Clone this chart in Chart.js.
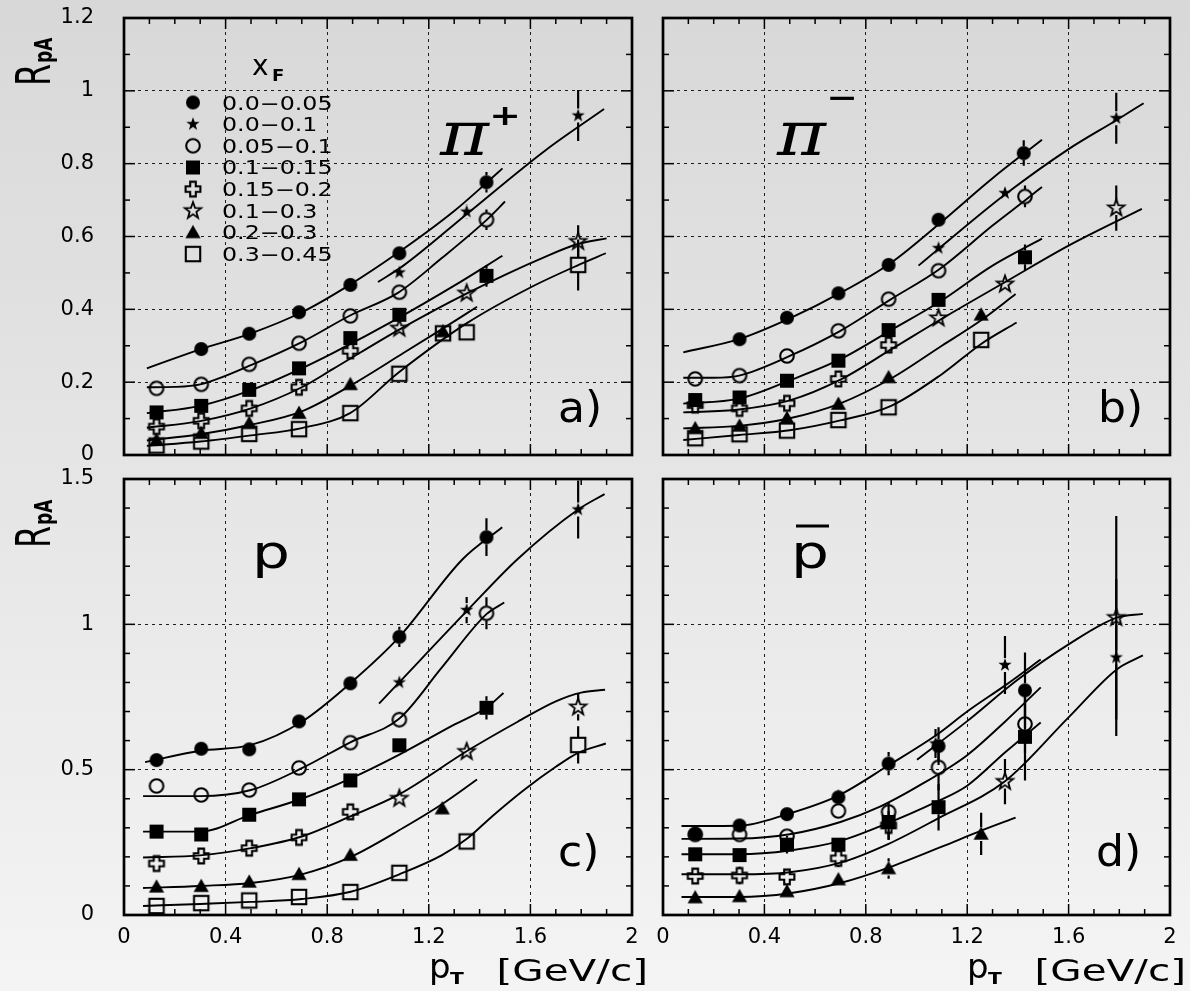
<!DOCTYPE html>
<html><head><meta charset="utf-8">
<script src="https://cdn.jsdelivr.net/npm/chart.js@4.4.0/dist/chart.umd.min.js"></script>
<style>
html,body{margin:0;padding:0;}
body{width:1190px;height:991px;overflow:hidden;background:linear-gradient(#d8d8d8,#f4f4f4);position:relative;}
canvas{position:absolute;left:0;top:0;}
</style></head><body>
<canvas id="ca" width="1190" height="991"></canvas>
<canvas id="cb" width="1190" height="991"></canvas>
<canvas id="cc" width="1190" height="991"></canvas>
<canvas id="cd" width="1190" height="991"></canvas>
<script>
// ---------- tick values / labels ----------
const X_TICKS = [0, 0.4, 0.8, 1.2, 1.6, 2];
const X_TICK_LABELS = ['0', '0.4', '0.8', '1.2', '1.6', '2'];
const X_MINOR = [0.1,0.2,0.3,0.4,0.5,0.6,0.7,0.8,0.9,1.0,1.1,1.2,1.3,1.4,1.5,1.6,1.7,1.8,1.9];
const Y_TICKS_TOP = [0, 0.2, 0.4, 0.6, 0.8, 1, 1.2];
const Y_LABELS_TOP = ['0', '0.2', '0.4', '0.6', '0.8', '1', '1.2'];
const Y_MINOR_TOP = [0.1,0.2,0.3,0.4,0.5,0.6,0.7,0.8,0.9,1.0,1.1];
const Y_TICKS_BOT = [0, 0.5, 1, 1.5];
const Y_LABELS_BOT = ['0', '0.5', '1', '1.5'];
const Y_MINOR_BOT = [0.1,0.2,0.3,0.4,0.5,0.6,0.7,0.8,0.9,1.0,1.1,1.2,1.3,1.4];
const LEGEND_LABELS = ['0.0\u22120.05','0.0\u22120.1','0.05\u22120.1','0.1\u22120.15','0.15\u22120.2','0.1\u22120.3','0.2\u22120.3','0.3\u22120.45'];

// ---------- panel a : pi+ ----------
const A_circ_x = [0.304,0.493,0.689,0.891,1.084,1.427];
const A_circ_y = [0.291,0.333,0.392,0.467,0.554,0.749];
const A_circ_e = [0,0,0,0,0.012,0.028];
const A_sstar_x = [1.084,1.349,1.788];
const A_sstar_y = [0.501,0.668,0.932];
const A_sstar_e = [0.01,0.02,0.07];
const A_ocirc_x = [0.128,0.304,0.493,0.689,0.891,1.084,1.427];
const A_ocirc_y = [0.183,0.194,0.249,0.307,0.382,0.447,0.646];
const A_ocirc_e = [0,0,0,0,0,0.01,0.028];
const A_sq_x = [0.128,0.304,0.493,0.689,0.891,1.084,1.427];
const A_sq_y = [0.117,0.135,0.179,0.238,0.321,0.385,0.492];
const A_sq_e = [0,0,0,0,0,0.01,0.03];
const A_cross_x = [0.128,0.304,0.493,0.689,0.891];
const A_cross_y = [0.078,0.094,0.128,0.186,0.286];
const A_cross_e = [0,0,0,0,0.01];
const A_ostar_x = [1.084,1.349,1.788];
const A_ostar_y = [0.348,0.444,0.586];
const A_ostar_e = [0.01,0.015,0.045];
const A_tri_x = [0.128,0.304,0.493,0.689,0.891,1.256];
const A_tri_y = [0.041,0.06,0.087,0.115,0.194,0.339];
const A_tri_e = [0,0,0,0,0,0];
const A_osq_x = [0.128,0.304,0.493,0.689,0.891,1.084,1.256,1.349,1.788];
const A_osq_y = [0.026,0.037,0.058,0.071,0.115,0.223,0.334,0.337,0.522];
const A_osq_e = [0,0,0,0,0,0,0,0,0.07];
// fitted curves
const A_fit_circ_x = [0.09,0.3,0.5,0.7,0.89,1.08,1.3,1.43,1.49];
const A_fit_circ_y = [0.238,0.29,0.334,0.392,0.468,0.556,0.67,0.749,0.787];
const A_fit_sstar_x = [1.0,1.1,1.35,1.66,1.89];
const A_fit_sstar_y = [0.475,0.52,0.662,0.837,0.95];
const A_fit_ocirc_x = [0.09,0.2,0.3,0.5,0.7,0.89,1.08,1.25,1.43,1.5];
const A_fit_ocirc_y = [0.186,0.187,0.194,0.247,0.31,0.383,0.446,0.54,0.647,0.696];
const A_fit_sq_x = [0.09,0.3,0.5,0.7,0.82,1.08,1.3,1.49];
const A_fit_sq_y = [0.115,0.135,0.178,0.238,0.279,0.376,0.465,0.547];
const A_fit_cross_x = [0.09,0.3,0.5,0.7,0.82,1.08,1.35,1.66,1.79,1.9];
const A_fit_cross_y = [0.075,0.093,0.128,0.186,0.235,0.343,0.444,0.545,0.58,0.595];
const A_fit_tri_x = [0.09,0.3,0.5,0.7,0.89,1.1,1.25,1.39];
const A_fit_tri_y = [0.04,0.057,0.083,0.12,0.19,0.28,0.345,0.407];
const A_fit_osq_x = [0.09,0.3,0.5,0.7,0.89,1.08,1.35,1.6,1.79,1.897];
const A_fit_osq_y = [0.025,0.037,0.054,0.074,0.115,0.226,0.362,0.46,0.522,0.554];

// ---------- panel b : pi- ----------
const B_circ_x = [0.302,0.489,0.692,0.89,1.087,1.423];
const B_circ_y = [0.318,0.377,0.444,0.522,0.646,0.829];
const B_circ_e = [0,0,0,0,0.012,0.035];
const B_sstar_x = [1.087,1.349,1.788];
const B_sstar_y = [0.568,0.719,0.925];
const B_sstar_e = [0.01,0.015,0.07];
const B_ocirc_x = [0.127,0.302,0.489,0.692,0.89,1.087,1.428];
const B_ocirc_y = [0.209,0.218,0.272,0.341,0.428,0.506,0.71];
const B_ocirc_e = [0,0,0,0,0,0.01,0.03];
const B_sq_x = [0.127,0.302,0.489,0.692,0.89,1.087,1.428];
const B_sq_y = [0.151,0.158,0.204,0.259,0.343,0.426,0.543];
const B_sq_e = [0,0,0,0,0,0.01,0.035];
const B_cross_x = [0.127,0.302,0.489,0.692,0.89];
const B_cross_y = [0.137,0.128,0.142,0.209,0.302];
const B_cross_e = [0,0,0,0,0.01];
const B_ostar_x = [1.087,1.349,1.788];
const B_ostar_y = [0.376,0.469,0.678];
const B_ostar_e = [0.01,0.015,0.062];
const B_tri_x = [0.127,0.302,0.489,0.692,0.89,1.255];
const B_tri_y = [0.073,0.08,0.101,0.14,0.213,0.385];
const B_tri_e = [0,0,0,0,0,0];
const B_osq_x = [0.127,0.302,0.489,0.692,0.89,1.255];
const B_osq_y = [0.046,0.057,0.067,0.096,0.131,0.316];
const B_osq_e = [0,0,0,0,0,0];
const B_fit_circ_x = [0.08,0.3,0.5,0.7,0.9,1.09,1.3,1.495];
const B_fit_circ_y = [0.282,0.318,0.375,0.445,0.528,0.635,0.76,0.866];
const B_fit_sstar_x = [1.008,1.087,1.349,1.6,1.79,1.896];
const B_fit_sstar_y = [0.52,0.566,0.715,0.84,0.92,0.966];
const B_fit_ocirc_x = [0.08,0.2,0.3,0.5,0.7,0.9,1.09,1.3,1.43,1.495];
const B_fit_ocirc_y = [0.212,0.212,0.218,0.272,0.341,0.428,0.51,0.63,0.7,0.736];
const B_fit_sq_x = [0.08,0.3,0.5,0.7,0.9,1.09,1.3,1.495];
const B_fit_sq_y = [0.141,0.155,0.205,0.263,0.343,0.42,0.52,0.594];
const B_fit_cross_x = [0.08,0.3,0.5,0.7,0.9,1.09,1.35,1.6,1.889];
const B_fit_cross_y = [0.117,0.125,0.15,0.207,0.29,0.37,0.475,0.575,0.676];
const B_fit_tri_x = [0.08,0.3,0.5,0.7,0.9,1.1,1.255,1.391];
const B_fit_tri_y = [0.073,0.08,0.101,0.142,0.21,0.3,0.37,0.442];
const B_fit_osq_x = [0.08,0.3,0.5,0.7,0.9,1.1,1.255,1.395];
const B_fit_osq_y = [0.041,0.055,0.068,0.095,0.135,0.222,0.305,0.364];

// ---------- panel c : p ----------
const C_circ_x = [0.128,0.304,0.493,0.689,0.891,1.084,1.427];
const C_circ_y = [0.533,0.572,0.57,0.666,0.797,0.957,1.3];
const C_circ_e = [0,0,0,0,0.01,0.035,0.065];
const C_sstar_x = [1.084,1.349,1.788];
const C_sstar_y = [0.8,1.049,1.395];
const C_sstar_e = [0.02,0.045,0.1];
const C_ocirc_x = [0.128,0.304,0.493,0.689,0.891,1.084,1.427];
const C_ocirc_y = [0.444,0.413,0.43,0.506,0.593,0.672,1.038];
const C_ocirc_e = [0,0,0,0,0,0.026,0.055];
const C_sq_x = [0.128,0.304,0.493,0.689,0.891,1.084,1.427];
const C_sq_y = [0.287,0.277,0.345,0.398,0.463,0.584,0.713];
const C_sq_e = [0,0,0,0,0,0.01,0.04];
const C_cross_x = [0.128,0.304,0.493,0.689,0.891];
const C_cross_y = [0.177,0.203,0.23,0.267,0.355];
const C_cross_e = [0,0,0,0,0.01];
const C_ostar_x = [1.084,1.349,1.788];
const C_ostar_y = [0.401,0.562,0.715];
const C_ostar_e = [0.01,0.015,0.046];
const C_tri_x = [0.128,0.304,0.493,0.689,0.891,1.253];
const C_tri_y = [0.097,0.099,0.114,0.14,0.206,0.366];
const C_tri_e = [0,0,0,0,0,0];
const C_osq_x = [0.128,0.304,0.493,0.689,0.891,1.084,1.349,1.788];
const C_osq_y = [0.031,0.041,0.05,0.062,0.079,0.145,0.253,0.585];
const C_osq_e = [0,0,0,0,0,0,0,0.064];
const C_fit_circ_x = [0.083,0.3,0.5,0.7,0.893,1.083,1.333,1.489];
const C_fit_circ_y = [0.526,0.565,0.585,0.665,0.799,0.956,1.224,1.334];
const C_fit_sstar_x = [1.004,1.083,1.352,1.549,1.788,1.892];
const C_fit_sstar_y = [0.727,0.8,1.048,1.224,1.395,1.448];
const C_fit_ocirc_x = [0.075,0.3,0.5,0.7,0.893,1.083,1.25,1.427,1.497];
const C_fit_ocirc_y = [0.409,0.409,0.43,0.505,0.595,0.675,0.85,1.035,1.075];
const C_fit_sq_x = [0.075,0.3,0.5,0.7,0.893,1.084,1.3,1.427,1.494];
const C_fit_sq_y = [0.287,0.287,0.345,0.4,0.47,0.552,0.655,0.713,0.764];
const C_fit_cross_x = [0.075,0.3,0.5,0.7,0.893,1.083,1.352,1.55,1.7,1.8,1.894];
const C_fit_cross_y = [0.198,0.205,0.23,0.27,0.34,0.415,0.565,0.665,0.735,0.765,0.775];
const C_fit_tri_x = [0.075,0.3,0.5,0.7,0.893,1.1,1.25,1.39];
const C_fit_tri_y = [0.093,0.1,0.11,0.14,0.2,0.3,0.38,0.466];
const C_fit_osq_x = [0.075,0.3,0.5,0.7,0.893,1.084,1.25,1.35,1.45,1.576,1.7,1.788,1.897];
const C_fit_osq_y = [0.031,0.038,0.045,0.055,0.08,0.14,0.205,0.262,0.34,0.431,0.51,0.558,0.59];

// ---------- panel d : pbar ----------
const D_circ_x = [0.127,0.302,0.489,0.692,0.89,1.087,1.428];
const D_circ_y = [0.279,0.308,0.347,0.405,0.521,0.581,0.773];
const D_circ_e = [0.01,0.01,0.015,0.026,0.04,0.065,0.13];
const D_sstar_x = [1.075,1.349,1.788];
const D_sstar_y = [0.59,0.86,0.886];
const D_sstar_e = [0.05,0.1,0.27];
const D_ocirc_x = [0.127,0.302,0.489,0.692,0.89,1.087,1.428];
const D_ocirc_y = [0.277,0.277,0.271,0.358,0.355,0.508,0.657];
const D_ocirc_e = [0,0,0.01,0,0.03,0.08,0.1];
const D_sq_x = [0.127,0.302,0.489,0.692,0.89,1.087,1.428];
const D_sq_y = [0.209,0.206,0.242,0.242,0.32,0.371,0.613];
const D_sq_e = [0,0,0.03,0,0.06,0.08,0.15];
const D_cross_x = [0.127,0.302,0.489,0.692,0.89];
const D_cross_y = [0.134,0.136,0.131,0.195,0.308];
const D_cross_e = [0.02,0.03,0.015,0.03,0.05];
const D_ostar_x = [1.349,1.788];
const D_ostar_y = [0.459,1.023];
const D_ostar_e = [0.078,0.35];
const D_tri_x = [0.127,0.302,0.489,0.692,0.89,1.255];
const D_tri_y = [0.06,0.064,0.081,0.122,0.16,0.279];
const D_tri_e = [0.01,0,0,0,0.035,0.073];
const D_fit_circ_x = [0.073,0.3,0.49,0.69,0.89,1.08,1.2,1.35,1.49];
const D_fit_circ_y = [0.306,0.307,0.347,0.41,0.515,0.62,0.7,0.79,0.879];
const D_fit_sstar_x = [1.002,1.2,1.4,1.6,1.79,1.893];
const D_fit_sstar_y = [0.534,0.667,0.81,0.931,1.023,1.036];
const D_fit_ocirc_x = [0.073,0.3,0.5,0.7,0.856,1.0,1.2,1.349,1.49];
const D_fit_ocirc_y = [0.262,0.263,0.278,0.32,0.373,0.44,0.55,0.665,0.783];
const D_fit_sq_x = [0.073,0.3,0.5,0.7,0.856,1.08,1.2,1.35,1.49];
const D_fit_sq_y = [0.209,0.209,0.222,0.255,0.305,0.39,0.445,0.56,0.662];
const D_fit_cross_x = [0.073,0.3,0.5,0.7,0.89,1.08,1.349,1.6,1.79,1.893];
const D_fit_cross_y = [0.14,0.14,0.147,0.18,0.245,0.33,0.46,0.68,0.845,0.893];
const D_fit_tri_x = [0.073,0.3,0.5,0.7,0.89,1.1,1.255,1.391];
const D_fit_tri_y = [0.062,0.062,0.075,0.11,0.163,0.235,0.29,0.335];

// ---------- rendering ----------
const FONT = "'DejaVu Sans', 'Liberation Sans', sans-serif";
const KINDS = ['circ','sstar','ocirc','sq','cross','ostar','tri','osq'];

function marker(kind) {
  const S = 24, c = document.createElement('canvas');
  c.width = S; c.height = S;
  const g = c.getContext('2d');
  g.translate(S / 2, S / 2);
  g.fillStyle = '#000'; g.strokeStyle = '#000'; g.lineWidth = 2.1;
  const star = (ro, ri) => {
    g.beginPath();
    for (let i = 0; i < 10; i++) {
      const r = i % 2 ? ri : ro, a = -Math.PI / 2 + i * Math.PI / 5;
      g.lineTo(r * Math.cos(a), r * Math.sin(a));
    }
    g.closePath();
  };
  switch (kind) {
    case 'circ': g.beginPath(); g.arc(0, 0, 7, 0, 2 * Math.PI); g.fill(); break;
    case 'sstar': star(7, 2.8); g.fill(); break;
    case 'ocirc': g.beginPath(); g.arc(0, 0, 6.8, 0, 2 * Math.PI); g.stroke(); break;
    case 'sq': g.fillRect(-7, -7, 14, 14); break;
    case 'cross': {
      const a = 2.8, b = 7.4;
      g.beginPath();
      g.moveTo(-a, -b); g.lineTo(a, -b); g.lineTo(a, -a); g.lineTo(b, -a); g.lineTo(b, a); g.lineTo(a, a);
      g.lineTo(a, b); g.lineTo(-a, b); g.lineTo(-a, a); g.lineTo(-b, a); g.lineTo(-b, -a); g.lineTo(-a, -a);
      g.closePath(); g.stroke(); break;
    }
    case 'ostar': star(8.6, 3.5); g.lineWidth = 1.8; g.stroke(); break;
    case 'tri': g.beginPath(); g.moveTo(0, -7.6); g.lineTo(7.6, 5.8); g.lineTo(-7.6, 5.8); g.closePath(); g.fill(); break;
    case 'osq': g.strokeRect(-7.2, -7.2, 14.4, 14.4); break;
  }
  return c;
}
const MARK = {};
KINDS.forEach(k => MARK[k] = marker(k));

function txt(ctx, s, x, y, font, sx, align) {
  ctx.save();
  ctx.translate(x, y); ctx.scale(sx || 1, 1);
  ctx.font = font; ctx.textAlign = align || 'left'; ctx.textBaseline = 'alphabetic';
  ctx.fillStyle = '#000'; ctx.fillText(s, 0, 0);
  ctx.restore();
}
function rpaLabel(ctx, bottomY) {
  ctx.save();
  ctx.translate(50, bottomY); ctx.scale(1.5, 1); ctx.rotate(-Math.PI / 2);
  ctx.fillStyle = '#000'; ctx.textBaseline = 'alphabetic'; ctx.textAlign = 'left';
  ctx.font = `32px ${FONT}`; ctx.fillText('R', 0, 0);
  ctx.font = `bold 17px ${FONT}`; ctx.fillText('pA', 23, 1.5);
  ctx.restore();
}
function xTitle(ctx, right) {
  txt(ctx, 'p', right - 203, 978, `34px ${FONT}`, 1.0);
  txt(ctx, 'T', right - 182, 984, `bold 15px ${FONT}`, 1.35);
  txt(ctx, '[GeV/c]', right + 16, 981, `30px ${FONT}`, 1.35, 'right');
}

function series(k, x, y, e) { return {k, x, y, e}; }

function buildPanel(id, P) {
  const datasets = [];
  P.series.forEach(s => datasets.push({
    data: s.x.map((v, i) => ({x: v, y: s.y[i]})),
    showLine: false, pointStyle: MARK[s.k], pointRadius: 7, order: 1
  }));
  P.fits.forEach(f => datasets.push({
    data: f[0].map((v, i) => ({x: v, y: f[1][i]})),
    showLine: true, pointRadius: 0, borderColor: '#000', borderWidth: 1.9,
    cubicInterpolationMode: 'monotone', fill: false, order: 2
  }));
  const deco = {
    id: 'deco' + id,
    beforeDatasetsDraw(chart) {
      const {ctx, scales: {x, y}} = chart;
      ctx.save(); ctx.strokeStyle = '#000'; ctx.lineWidth = 2.2;
      P.series.forEach(s => s.x.forEach((v, i) => {
        const e = s.e[i]; if (!e) return;
        const px = x.getPixelForValue(v), py = y.getPixelForValue(s.y[i]);
        const t = y.getPixelForValue(s.y[i] + e), b = y.getPixelForValue(s.y[i] - e);
        const gap = 7;
        ctx.beginPath();
        if (t < py - gap) { ctx.moveTo(px, t); ctx.lineTo(px, py - gap); }
        if (b > py + gap) { ctx.moveTo(px, py + gap); ctx.lineTo(px, b); }
        ctx.stroke();
      }));
      ctx.restore();
    },
    afterDraw(chart) {
      const {ctx, chartArea: a, scales: {x, y}} = chart;
      ctx.save(); ctx.strokeStyle = '#000'; ctx.lineWidth = 1.5;
      const ln = (x1, y1, x2, y2) => { ctx.beginPath(); ctx.moveTo(x1, y1); ctx.lineTo(x2, y2); ctx.stroke(); };
      X_MINOR.forEach(v => {
        const px = x.getPixelForValue(v), L = X_TICKS.includes(v) ? 11 : 6;
        ln(px, a.bottom, px, a.bottom - L); ln(px, a.top, px, a.top + L);
      });
      P.yMinor.forEach(v => {
        const py = y.getPixelForValue(v), L = P.yTicks.includes(v) ? 11 : 6;
        ln(a.left, py, a.left + L, py); ln(a.right, py, a.right - L, py);
      });
      ctx.lineWidth = 2.7;
      ctx.strokeRect(a.left, a.top, a.right - a.left, a.bottom - a.top);
      ctx.restore();
      P.draw(ctx, a);
    }
  };
  const noPad = s => { s.paddingTop = 0; s.paddingBottom = 0; s.paddingLeft = 0; s.paddingRight = 0; };
  return new Chart(document.getElementById(id), {
    type: 'scatter',
    data: {datasets},
    plugins: [deco],
    options: {
      responsive: false, animation: false, devicePixelRatio: 1, events: [],
      layout: {padding: {left: 0, top: P.t, right: 1190 - P.r, bottom: 991 - P.b - P.xh}},
      plugins: {legend: {display: false}, tooltip: {enabled: false}},
      scales: {
        x: {
          type: 'linear', position: 'bottom', min: 0, max: 2,
          afterBuildTicks: s => { s.ticks = X_TICKS.map(v => ({value: v})); },
          afterFit: s => { s.height = P.xh; noPad(s); },
          ticks: {display: P.showX, padding: 10, color: '#000', autoSkip: false, maxRotation: 0, minRotation: 0,
                  font: {family: FONT, size: 21}, callback: (v, i) => X_TICK_LABELS[i]},
          grid: {color: '#1e1e1e', lineWidth: 1, drawTicks: false},
          border: {display: false, dash: [3, 4]}
        },
        y: {
          type: 'linear', position: 'left', min: 0, max: P.ymax,
          afterBuildTicks: s => { s.ticks = P.yTicks.map(v => ({value: v})); },
          afterFit: s => { s.width = P.l; noPad(s); },
          ticks: {display: P.showY, padding: 30, color: '#000', autoSkip: false,
                  font: {family: FONT, size: 21}, callback: (v, i) => P.yLabels[i]},
          grid: {color: '#1e1e1e', lineWidth: 1, drawTicks: false},
          border: {display: false, dash: [3, 4]}
        }
      }
    }
  });
}

buildPanel('ca', {
  l: 124, r: 632, t: 18, b: 455, xh: 2, ymax: 1.2, yTicks: Y_TICKS_TOP, yLabels: Y_LABELS_TOP, yMinor: Y_MINOR_TOP,
  showX: false, showY: true,
  series: [series('circ', A_circ_x, A_circ_y, A_circ_e), series('sstar', A_sstar_x, A_sstar_y, A_sstar_e),
           series('ocirc', A_ocirc_x, A_ocirc_y, A_ocirc_e), series('sq', A_sq_x, A_sq_y, A_sq_e),
           series('cross', A_cross_x, A_cross_y, A_cross_e), series('ostar', A_ostar_x, A_ostar_y, A_ostar_e),
           series('tri', A_tri_x, A_tri_y, A_tri_e), series('osq', A_osq_x, A_osq_y, A_osq_e)],
  fits: [[A_fit_circ_x, A_fit_circ_y], [A_fit_sstar_x, A_fit_sstar_y], [A_fit_ocirc_x, A_fit_ocirc_y],
         [A_fit_sq_x, A_fit_sq_y], [A_fit_cross_x, A_fit_cross_y], [A_fit_tri_x, A_fit_tri_y], [A_fit_osq_x, A_fit_osq_y]],
  draw(ctx, a) {
    rpaLabel(ctx, 86);
    txt(ctx, '\u03C0', 440, 155, `italic 62px 'DejaVu Serif', serif`, 1.2);
    txt(ctx, '+', 505, 125, `bold 28px ${FONT}`, 1.35, 'center');
    txt(ctx, 'a)', 558, 422, `42px ${FONT}`, 1.05);
    // legend
    txt(ctx, 'x', 252, 75, `28px ${FONT}`, 1.0);
    txt(ctx, 'F', 272, 81, `bold 15px ${FONT}`, 1.2);
    KINDS.forEach((k, i) => {
      const yy = 102.5 + i * 21.65, m = MARK[k];
      ctx.drawImage(m, 193 - m.width / 2, yy - m.height / 2);
      txt(ctx, LEGEND_LABELS[i], 222, yy + 7, `19px ${FONT}`, 1.25);
    });
  }
});

buildPanel('cb', {
  l: 663, r: 1170, t: 18, b: 455, xh: 2, ymax: 1.2, yTicks: Y_TICKS_TOP, yLabels: Y_LABELS_TOP, yMinor: Y_MINOR_TOP,
  showX: false, showY: false,
  series: [series('circ', B_circ_x, B_circ_y, B_circ_e), series('sstar', B_sstar_x, B_sstar_y, B_sstar_e),
           series('ocirc', B_ocirc_x, B_ocirc_y, B_ocirc_e), series('sq', B_sq_x, B_sq_y, B_sq_e),
           series('cross', B_cross_x, B_cross_y, B_cross_e), series('ostar', B_ostar_x, B_ostar_y, B_ostar_e),
           series('tri', B_tri_x, B_tri_y, B_tri_e), series('osq', B_osq_x, B_osq_y, B_osq_e)],
  fits: [[B_fit_circ_x, B_fit_circ_y], [B_fit_sstar_x, B_fit_sstar_y], [B_fit_ocirc_x, B_fit_ocirc_y],
         [B_fit_sq_x, B_fit_sq_y], [B_fit_cross_x, B_fit_cross_y], [B_fit_tri_x, B_fit_tri_y], [B_fit_osq_x, B_fit_osq_y]],
  draw(ctx, a) {
    txt(ctx, '\u03C0', 777, 155, `italic 62px 'DejaVu Serif', serif`, 1.2);
    txt(ctx, '\u2212', 842, 107, `bold 28px ${FONT}`, 1.35, 'center');
    txt(ctx, 'b)', 1098, 422, `42px ${FONT}`, 1.05);
  }
});

buildPanel('cc', {
  l: 124, r: 632, t: 479, b: 915, xh: 76, ymax: 1.5, yTicks: Y_TICKS_BOT, yLabels: Y_LABELS_BOT, yMinor: Y_MINOR_BOT,
  showX: true, showY: true,
  series: [series('circ', C_circ_x, C_circ_y, C_circ_e), series('sstar', C_sstar_x, C_sstar_y, C_sstar_e),
           series('ocirc', C_ocirc_x, C_ocirc_y, C_ocirc_e), series('sq', C_sq_x, C_sq_y, C_sq_e),
           series('cross', C_cross_x, C_cross_y, C_cross_e), series('ostar', C_ostar_x, C_ostar_y, C_ostar_e),
           series('tri', C_tri_x, C_tri_y, C_tri_e), series('osq', C_osq_x, C_osq_y, C_osq_e)],
  fits: [[C_fit_circ_x, C_fit_circ_y], [C_fit_sstar_x, C_fit_sstar_y], [C_fit_ocirc_x, C_fit_ocirc_y],
         [C_fit_sq_x, C_fit_sq_y], [C_fit_cross_x, C_fit_cross_y], [C_fit_tri_x, C_fit_tri_y], [C_fit_osq_x, C_fit_osq_y]],
  draw(ctx, a) {
    rpaLabel(ctx, 548);
    txt(ctx, 'p', 252, 568, `46px ${FONT}`, 1.3);
    txt(ctx, 'c)', 558, 866, `42px ${FONT}`, 1.05);
    xTitle(ctx, a.right);
  }
});

buildPanel('cd', {
  l: 663, r: 1170, t: 479, b: 915, xh: 76, ymax: 1.5, yTicks: Y_TICKS_BOT, yLabels: Y_LABELS_BOT, yMinor: Y_MINOR_BOT,
  showX: true, showY: false,
  series: [series('circ', D_circ_x, D_circ_y, D_circ_e), series('sstar', D_sstar_x, D_sstar_y, D_sstar_e),
           series('ocirc', D_ocirc_x, D_ocirc_y, D_ocirc_e), series('sq', D_sq_x, D_sq_y, D_sq_e),
           series('cross', D_cross_x, D_cross_y, D_cross_e), series('ostar', D_ostar_x, D_ostar_y, D_ostar_e),
           series('tri', D_tri_x, D_tri_y, D_tri_e)],
  fits: [[D_fit_circ_x, D_fit_circ_y], [D_fit_sstar_x, D_fit_sstar_y], [D_fit_ocirc_x, D_fit_ocirc_y],
         [D_fit_sq_x, D_fit_sq_y], [D_fit_cross_x, D_fit_cross_y], [D_fit_tri_x, D_fit_tri_y]],
  draw(ctx, a) {
    txt(ctx, 'p', 791, 568, `46px ${FONT}`, 1.3);
    ctx.save(); ctx.fillStyle = '#000'; ctx.fillRect(796, 524.5, 33, 3); ctx.restore();
    txt(ctx, 'd)', 1096, 866, `42px ${FONT}`, 1.05);
    xTitle(ctx, a.right);
  }
});
</script>
</body></html>
